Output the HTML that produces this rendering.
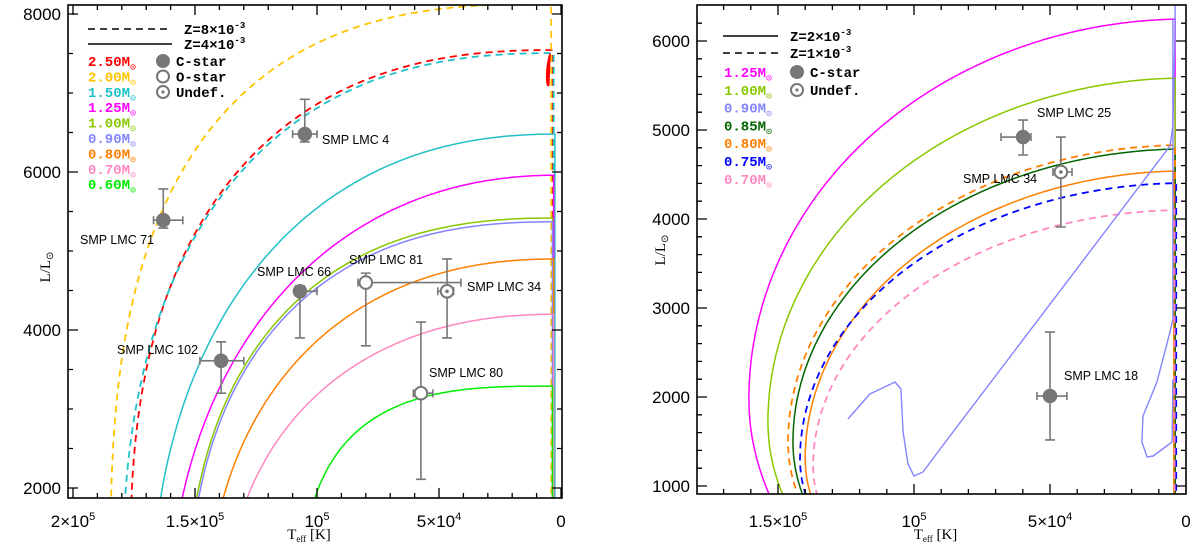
<!DOCTYPE html>
<html><head><meta charset="utf-8"><style>
html,body{margin:0;padding:0;background:#fff;width:1200px;height:551px;overflow:hidden;}
svg{display:block;}
text{font-family:"Liberation Sans",sans-serif;}
.mono{font-family:"Liberation Mono",monospace;font-weight:bold;}
.ser{font-family:"Liberation Serif",serif;}
</style></head><body>
<svg id="chart" width="1200" height="551" viewBox="0 0 1200 551" xmlns="http://www.w3.org/2000/svg">
<defs>
<clipPath id="clipL"><rect x="68" y="5" width="494" height="493"/></clipPath>
<clipPath id="clipR"><rect x="697" y="5" width="489" height="489"/></clipPath>
</defs>
</svg>
<script>
// ---------- LEFT PANEL DATA ----------
const leftMasses = ['2.50','2.00','1.50','1.50','1.25','1.00','0.90','0.80','0.70','0.60'];
const leftPlateauL = [7545, 8130, 7506, 6480, 5960, 5418, 5370, 4900, 4200, 3290];
const leftTmax = [176500, 184700, 179900, 168400, 161100, 153700, 153000, 145600, 138500, 106700];
const leftTurnL = [1000, 800, 500, 0, 0, 0, 0, 0, 0, 0];
const leftShape = [2.5, 2.8, 2.5, 2.3, 2.2, 2.5, 2.5, 2.3, 2.3, 3.2];
const leftTend = [3500, 4000, 3000, 2500, 3000, 3500, 3500, 3000, 3000, 3500];
const leftDashed = [true, true, true, false, false, false, false, false, false, false];
const leftColors = ['#ff0000','#ffc400','#20c0c8','#20c0c8','#ff00ff','#88c800','#8484ff','#ff8000','#ff88c0','#00ee00'];
const leftLegendMasses = ['2.50','2.00','1.50','1.25','1.00','0.90','0.80','0.70','0.60'];
const leftLegendColors = ['#ff0000','#ffc400','#20c0c8','#ff00ff','#88c800','#8484ff','#ff8000','#ff88c0','#00ee00'];

const leftStarNames = ['SMP LMC 4','SMP LMC 71','SMP LMC 66','SMP LMC 81','SMP LMC 34','SMP LMC 102','SMP LMC 80'];
const leftStarType = ['C','C','C','O','U','C','O'];
const leftStarT = [105000, 163000, 107000, 80000, 46700, 139300, 57400];
const leftStarL = [6480, 5390, 4490, 4600, 4490, 3610, 3200];
const leftStarTlo = [100000, 155000, 100000, 41000, 44000, 130000, 52500];
const leftStarThi = [110000, 167000, 109000, 83200, 50500, 148000, 60500];
const leftStarLlo = [6380, 5290, 3900, 3800, 3900, 3200, 2110];
const leftStarLhi = [6920, 5785, 4560, 4720, 4900, 3850, 4100];

// ---------- RIGHT PANEL DATA ----------
const rightMasses = ['1.25','1.00','0.85','0.80','0.80','0.75','0.70'];
const rightPlateauL = [6247, 5584, 4787, 4540, 4831, 4404, 4101];
const rightTmax = [160700, 153700, 144500, 140000, 146300, 141900, 137100];
const rightTurnL = [1980, 1719, 1494, 1303, 1494, 1303, 1225];
const rightShape = [2, 2, 2, 2, 2, 2, 2];
const rightTend = [4000, 4000, 4000, 4500, 4000, 3600, 4200];
const rightDashed = [false, false, false, false, true, true, true];
const rightColors = ['#ff00ff','#88c800','#006400','#ff8000','#ff8000','#0000ff','#ff88c0'];
const rightLegendMasses = ['1.25','1.00','0.90','0.85','0.80','0.75','0.70'];
const rightLegendColors = ['#ff00ff','#88c800','#8484ff','#006400','#ff8000','#0000ff','#ff88c0'];
// 0.90 Msun track (irregular), two segments
const lav1T = [124300,116200,107000,104800,104000,102200,100000,96700,90400,5900,4800,4000,4000];
const lav1L = [1753,2034,2169,2090,1607,1247,1112,1157,1416,4820,5045,6100,6416];
const lav2T = [4800,4800,5900,10700,15800,16200,14300,12100,5100,4800];
const lav2L = [6247,2876,2730,2169,1787,1494,1326,1337,1494,2200];

const rightStarNames = ['SMP LMC 25','SMP LMC 34','SMP LMC 18'];
const rightStarType = ['C','U','C'];
const rightStarT = [59900, 46000, 50000];
const rightStarL = [4921, 4528, 2011];
const rightStarTlo = [57000, 41900, 43800];
const rightStarThi = [68000, 48900, 54800];
const rightStarLlo = [4719, 3910, 1517];
const rightStarLhi = [5112, 4921, 2730];

// ---------- helpers ----------
const NS = 'http://www.w3.org/2000/svg';
const svg = document.getElementById('chart');
function mk(tag, attrs, parent) {
  const e = document.createElementNS(NS, tag);
  for (const k in attrs) e.setAttribute(k, attrs[k]);
  (parent || svg).appendChild(e);
  return e;
}

const panels = {
  left: {x0:68, x1:562, y0:5, y1:498, sx: T => 561 - T/5e4*122, sy: L => 488 - (L-2000)*0.079,
         Lmin:1873, clip:'url(#clipL)'},
  right:{x0:697, x1:1186, y0:5, y1:494, sx: T => 1186 - T/5e4*136, sy: L => 486 - (L-1000)*0.089,
         Lmin:910, clip:'url(#clipR)'}
};

function trackPath(p, Lp, Tmax, Lc, n, Tend) {
  const pts = [];
  const Lfloor = p.Lmin - 100;
  pts.push([Tend, Lfloor]);
  pts.push([Tend, Lp]);
  const e = 2 / n;
  for (let i = 0; i <= 140; i++) {
    const th = Math.PI/2 * (1 - i/140);
    const T = Tmax * Math.pow(Math.cos(th), e);
    const L = Lc + (Lp - Lc) * Math.pow(Math.sin(th), e);
    if (T < Tend) continue;
    if (L < Lfloor) continue;
    pts.push([T, L]);
  }
  const bl = 1.8 * Lc;
  if (Lc > Lfloor) {
    for (let i = 1; i <= 80; i++) {
      const th = Math.PI/2 * i/80;
      const T = Tmax * Math.pow(Math.cos(th), e);
      const L = Lc - bl * Math.pow(Math.sin(th), e);
      pts.push([T, Math.max(L, Lfloor)]);
      if (L < Lfloor) break;
    }
  } else {
    pts.push([Tmax, Lfloor]);
  }
  return pts.map((q, i) => (i ? 'L' : 'M') + p.sx(q[0]).toFixed(1) + ',' + p.sy(q[1]).toFixed(1)).join('');
}

function drawTracks(p, masses, Lps, Tmaxs, Lcs, shapes, Tends, dashed, colors, prefix) {
  const g = mk('g', {'clip-path': p.clip});
  
  
  for (let i = 0; i < masses.length; i++) {
    const path = mk('path', {d: trackPath(p, Lps[i], Tmaxs[i], Lcs[i], shapes[i], Tends[i]), fill:'none',
      stroke: colors[i], 'stroke-width': dashed[i] ? 1.8 : 1.5, 'stroke-dasharray': dashed[i] ? '7,5' : 'none'}, g);
    
    
  }
  return g;
}

function drawAxes(p, xMajor, xMinorStep, xLabels, yMajor, yMinorStep, prefix) {
  const g = mk('g', {});
  
  
  const frame = mk('rect', {x:p.x0, y:p.y0, width:p.x1-p.x0, height:p.y1-p.y0, fill:'none', stroke:'#000', 'stroke-width':1.6}, g);
  
  
  let d = '';
  for (let T = 0; T <= 210000; T += xMinorStep) {
    const x = p.sx(T);
    if (x < p.x0 + 1 || x > p.x1 - 1) continue;
    const len = (T % 50000 === 0) ? 10 : 5;
    d += `M${x},${p.y1}v${-len}M${x},${p.y0}v${len}`;
  }
  for (let L = 0; L <= 9000; L += yMinorStep) {
    const y = p.sy(L);
    if (y < p.y0 + 1 || y > p.y1 - 1) continue;
    const len = yMajor.includes(L) ? 10 : 5;
    d += `M${p.x0},${y}h${len}M${p.x1},${y}h${-len}`;
  }
  const ticks = mk('path', {d, stroke:'#000', 'stroke-width':1.3, fill:'none'}, g);
  
  
  for (let i = 0; i < xMajor.length; i++) {
    const t = mk('text', {x:p.sx(xMajor[i]), y:527, 'text-anchor':'middle', 'font-size':17}, g);
    
    
    const lab = xLabels[i];
    t.appendChild(document.createTextNode(lab[0]));
    if (lab[1]) {
      const s = mk('tspan', {dy:-7, 'font-size':11}, t);
      s.textContent = lab[1];
    }
  }
  for (let i = 0; i < yMajor.length; i++) {
    const t = mk('text', {x:p.x0 - 7, y:p.sy(yMajor[i]) + 6, 'text-anchor':'end', 'font-size':17}, g);
    
    
    t.textContent = String(yMajor[i]);
  }
  const xt = mk('text', {x:(p.x0+p.x1)/2 - 6, y:539, 'text-anchor':'middle', 'font-size':15, class:'ser'}, g);
  
  
  xt.innerHTML = 'T<tspan font-size="9" dy="3">eff</tspan><tspan dy="-3"> [K]</tspan>';
  return g;
}

function drawStars(p, names, types, Ts, Ls, Tlo, Thi, Llo, Lhi, labelPos, prefix) {
  const g = mk('g', {});
  
  
  for (let i = 0; i < names.length; i++) {
    const sg = mk('g', {}, g);
    
    
    const x = p.sx(Ts[i]), y = p.sy(Ls[i]);
    const xa = p.sx(Thi[i]), xb = p.sx(Tlo[i]), ya = p.sy(Lhi[i]), yb = p.sy(Llo[i]);
    const d = `M${xa},${y}H${xb}M${xa},${y-4}v8M${xb},${y-4}v8M${x},${ya}V${yb}M${x-5},${ya}h10M${x-5},${yb}h10`;
    const eb = mk('path', {d, stroke:'#777', 'stroke-width':1.6, fill:'none'}, sg);
    
    
    const filled = types[i] === 'C';
    const c = mk('circle', {cx:x, cy:y, r:6.3, fill: filled ? '#777' : '#fff', stroke:'#777', 'stroke-width':2}, sg);
    
    
    if (types[i] === 'U') {
      const dot = mk('circle', {cx:x, cy:y, r:1.8, fill:'#777'}, sg);
      
      
    }
    const lt = mk('text', {x:labelPos[i][0], y:labelPos[i][1] + 5, 'font-size':12.5, fill:'#000'}, sg);
    
    
    lt.textContent = names[i];
  }
}

function legendSym(g, x, y, type, label) {
  const c = mk('circle', {cx:x, cy:y, r:6, fill: type === 'C' ? '#777' : '#fff', stroke:'#777', 'stroke-width':2}, g);
  
  
  if (type === 'U') {
    const dot = mk('circle', {cx:x, cy:y, r:1.6, fill:'#777'}, g);
    
    
  }
  const t = mk('text', {x:x + 13, y:y + 5, 'font-size':14, class:'mono'}, g);
  
  
  t.textContent = label;
}
function legendMass(g, x, y, mass, color) {
  const t = mk('text', {x, y:y + 5, 'font-size':14, class:'mono', fill:color}, g);
  
  
  t.innerHTML = mass + 'M<tspan font-size="10" dy="4" font-weight="normal">⊙</tspan>';
}
function legendLine(g, x1, x2, y, dashed, label) {
  const l = mk('line', {x1, x2, y1:y, y2:y, stroke:'#000', 'stroke-width':1.5, 'stroke-dasharray': dashed ? '7,5' : 'none'}, g);
  
  
  const t = mk('text', {x:x2 + 12, y:y + 5, 'font-size':14, class:'mono'}, g);
  
  
  t.innerHTML = label;
}

// ---------- LEFT PANEL ----------
const PL = panels.left;
drawTracks(PL, leftMasses, leftPlateauL, leftTmax, leftTurnL, leftShape, leftTend, leftDashed, leftColors, 'left');
const loop = mk('path', {d:`M${PL.sx(4500)},${PL.sy(7500)} C${PL.sx(6500)},${PL.sy(7300)} ${PL.sx(6000)},${PL.sy(7050)} ${PL.sx(5000)},${PL.sy(7100)} Z`, fill:'#ff0000', stroke:'#ff0000', 'stroke-width':1.5, 'clip-path':PL.clip});


drawAxes(PL, [200000,150000,100000,50000,0], 10000,
  [['2×10','5'],['1.5×10','5'],['10','5'],['5×10','4'],['0','']], [2000,4000,6000,8000], 500, 'left');
drawStars(PL, leftStarNames, leftStarType, leftStarT, leftStarL, leftStarTlo, leftStarThi, leftStarLlo, leftStarLhi,
  [[322,139],[80,239],[257,271],[349,259],[467,286],[117,349],[429,372]], 'left');
const ytL = mk('text', {x:0, y:0, 'font-size':15, class:'ser', 'text-anchor':'middle', transform:'translate(50,267) rotate(-90)'});


ytL.innerHTML = 'L/L<tspan font-size="10" dy="3">⊙</tspan>';
const legL = mk('g', {});


legendLine(legL, 88, 172, 29, true, 'Z=8×10<tspan font-size="9" dy="-6">-3</tspan>');
legendLine(legL, 88, 172, 44, false, 'Z=4×10<tspan font-size="9" dy="-6">-3</tspan>');
for (let i = 0; i < leftLegendMasses.length; i++) legendMass(legL, 88, 61 + i*15.4, leftLegendMasses[i], leftLegendColors[i]);
legendSym(legL, 163, 61, 'C', 'C-star');
legendSym(legL, 163, 76.5, 'O', 'O-star');
legendSym(legL, 163, 92, 'U', 'Undef.');

// ---------- RIGHT PANEL ----------
const PR = panels.right;
const gR = drawTracks(PR, rightMasses, rightPlateauL, rightTmax, rightTurnL, rightShape, rightTend, rightDashed, rightColors, 'right');
function polyD(p, Ts, Ls) { return Ts.map((T, i) => (i ? 'L' : 'M') + p.sx(T).toFixed(1) + ',' + p.sy(Ls[i]).toFixed(1)).join(''); }
const lv1 = mk('path', {d: polyD(PR, lav1T, lav1L), fill:'none', stroke:'#8484ff', 'stroke-width':1.4, 'stroke-linejoin':'round'}, gR);


const lv2 = mk('path', {d: polyD(PR, lav2T, lav2L), fill:'none', stroke:'#8484ff', 'stroke-width':1.4, 'stroke-linejoin':'round'}, gR);


drawAxes(PR, [150000,100000,50000,0], 10000,
  [['1.5×10','5'],['10','5'],['5×10','4'],['0','']], [1000,2000,3000,4000,5000,6000], 200, 'right');
drawStars(PR, rightStarNames, rightStarType, rightStarT, rightStarL, rightStarTlo, rightStarThi, rightStarLlo, rightStarLhi,
  [[1037,112],[963,178],[1064,375]], 'right');
const ytR = mk('text', {x:0, y:0, 'font-size':15, class:'ser', 'text-anchor':'middle', transform:'translate(665,250) rotate(-90)'});


ytR.innerHTML = 'L/L<tspan font-size="10" dy="3">⊙</tspan>';
const legR = mk('g', {});


legendLine(legR, 723, 778, 36, false, 'Z=2×10<tspan font-size="9" dy="-6">-3</tspan>');
legendLine(legR, 723, 778, 53, true, 'Z=1×10<tspan font-size="9" dy="-6">-3</tspan>');
for (let i = 0; i < rightLegendMasses.length; i++) legendMass(legR, 724, 72 + i*17.8, rightLegendMasses[i], rightLegendColors[i]);
legendSym(legR, 797, 72, 'C', 'C-star');
legendSym(legR, 797, 90, 'U', 'Undef.');
</script>
</body></html>
